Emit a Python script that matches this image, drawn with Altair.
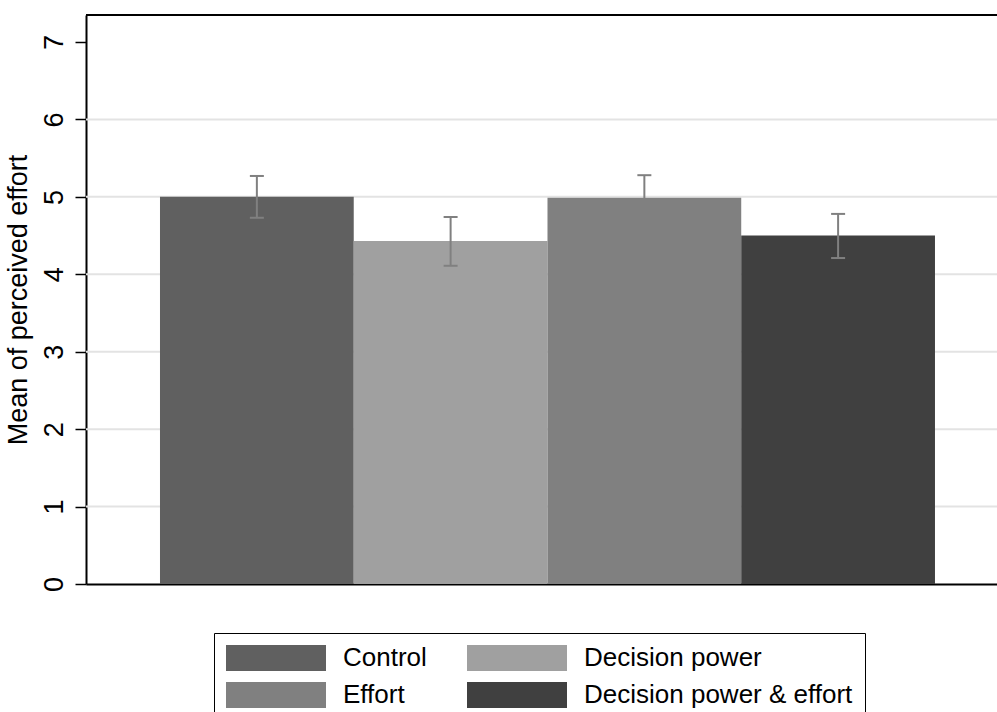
import altair as alt
import pandas as pd

# ---- data ----
groups = ["Control", "Decision power", "Effort", "Decision power & effort"]
means = [5.00, 4.43, 4.99, 4.50]
ci_low = [4.73, 4.11, 4.70, 4.21]
ci_high = [5.27, 4.74, 5.28, 4.78]
colors = ["#606060", "#a0a0a0", "#808080", "#404040"]
y_ticks = [0, 1, 2, 3, 4, 5, 6, 7]
grid_values = [1, 2, 3, 4, 5, 6]
y_max = 7.349

df = pd.DataFrame({"group": groups, "mean": means, "lo": ci_low, "hi": ci_high})
grid_df = pd.DataFrame({"v": grid_values})
top_df = pd.DataFrame({"v": [y_max]})

W, H = 911, 569
FONT = "Liberation Sans"

xscale = alt.Scale(domain=groups, paddingInner=0, paddingOuter=0.351, align=0.544)
xaxis = alt.Axis(title=None, labels=False, ticks=False, domain=True,
                 domainColor="black", domainWidth=2, grid=False)
xenc = alt.X("group:N", sort=groups, scale=xscale, axis=xaxis)

yscale = alt.Scale(domain=[0, y_max], nice=False, zero=True)
yaxis = alt.Axis(title="Mean of perceived effort", values=y_ticks, labelAngle=-90,
                 labelAlign="center", labelBaseline="bottom", labelFontSize=27,
                 labelFont=FONT, labelColor="black", tickSize=11, tickColor="black",
                 tickWidth=1.5, domainColor="black", domainWidth=2, grid=False,
                 labelPadding=7, titleFontSize=27, titleFont=FONT,
                 titleFontWeight="normal", titleColor="black", titlePadding=8)

grid = alt.Chart(grid_df).mark_rule(color="#e3e3e3", strokeWidth=2).encode(
    y=alt.Y("v:Q", scale=yscale, axis=yaxis)
)

top = alt.Chart(top_df).mark_rule(color="black", strokeWidth=2).encode(
    y=alt.Y("v:Q", scale=yscale, axis=yaxis)
)

legend = alt.Legend(title=None, orient="none", legendX=128, legendY=618, columns=2,
                    direction="horizontal",
                    symbolType="M-1,-0.26H1V0.26H-1Z", symbolSize=10000,
                    symbolStrokeWidth=0, clipHeight=26, labelFontSize=26,
                    labelFont=FONT, labelColor="black", labelOffset=17,
                    labelLimit=0, columnPadding=40, rowPadding=11, padding=12,
                    strokeColor="black", fillColor="white", symbolOpacity=1)

bars = alt.Chart(df).mark_bar(strokeWidth=0, opacity=1).encode(
    x=xenc,
    y=alt.Y("mean:Q", scale=yscale, axis=yaxis),
    color=alt.Color("group:N", sort=groups,
                    scale=alt.Scale(domain=groups, range=colors), legend=legend),
)

err = alt.Chart(df).mark_rule(color="#808080", strokeWidth=2).encode(
    x=xenc,
    y=alt.Y("lo:Q", scale=yscale, axis=yaxis),
    y2="hi:Q",
)

cap_hi = alt.Chart(df).mark_tick(color="#808080", thickness=2, size=14, opacity=1).encode(
    x=xenc, y=alt.Y("hi:Q", scale=yscale, axis=yaxis)
)
cap_lo = alt.Chart(df).mark_tick(color="#808080", thickness=2, size=14, opacity=1).encode(
    x=xenc, y=alt.Y("lo:Q", scale=yscale, axis=yaxis)
)

chart = alt.layer(grid, top, bars, err, cap_hi, cap_lo).properties(
    width=W, height=H,
    padding={"left": 86, "top": 15, "right": 0, "bottom": 128},
    autosize=alt.AutoSizeParams(type="none"),
    background="white",
).configure_view(stroke=None)

chart.save("out.html", embed_options={"renderer": "svg", "actions": False})
